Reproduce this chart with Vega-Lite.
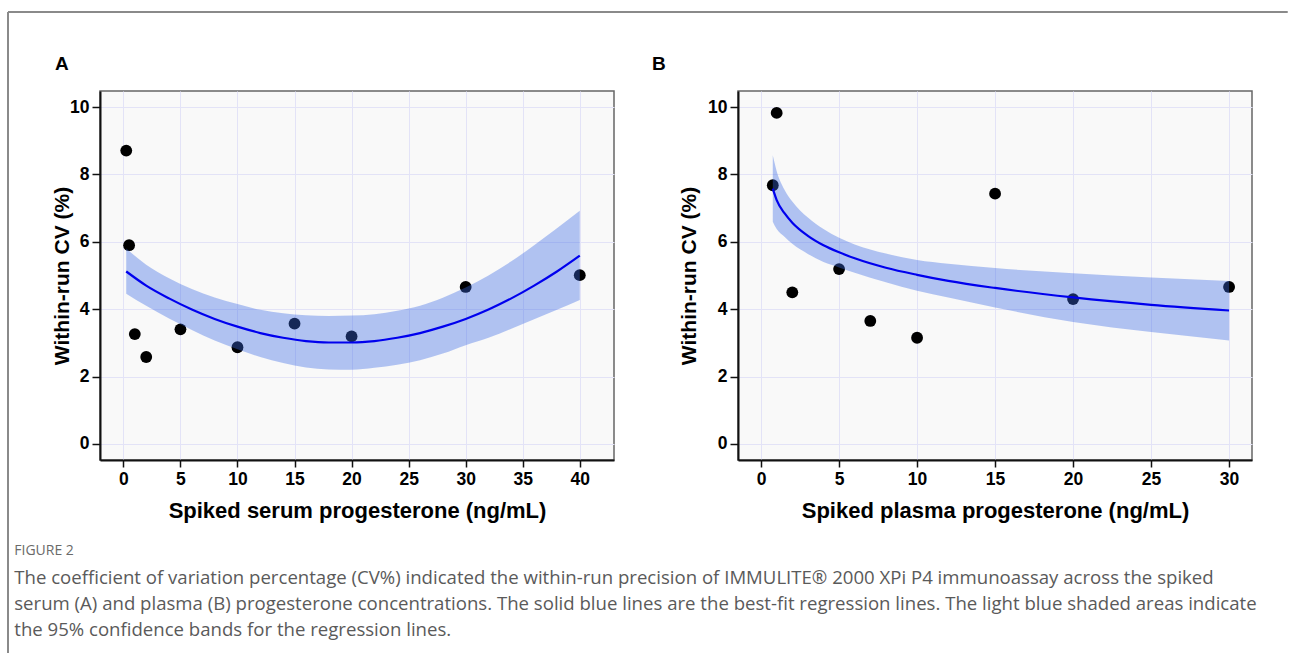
{
  "$schema": "https://vega.github.io/schema/vega-lite/v6.json",
  "background": "white",
  "padding": {"left": 6, "top": 10, "right": 0, "bottom": 0},
  "datasets": {
    "ptsA": [
      {"x": 0.25, "y": 8.71}, {"x": 0.5, "y": 5.9}, {"x": 1, "y": 3.26}, {"x": 2, "y": 2.58},
      {"x": 5, "y": 3.4}, {"x": 10, "y": 2.87}, {"x": 15, "y": 3.57}, {"x": 20, "y": 3.19},
      {"x": 30, "y": 4.66}, {"x": 40, "y": 5.01}
    ],
    "fitA": [
      {"x": 0.25, "fit": 5.12, "lo": 4.46, "hi": 5.8},
      {"x": 2, "fit": 4.7, "lo": 4.1, "hi": 5.32},
      {"x": 4, "fit": 4.32, "lo": 3.72, "hi": 4.92},
      {"x": 6, "fit": 3.99, "lo": 3.38, "hi": 4.6},
      {"x": 8, "fit": 3.71, "lo": 3.07, "hi": 4.35},
      {"x": 10, "fit": 3.48, "lo": 2.81, "hi": 4.15},
      {"x": 12, "fit": 3.29, "lo": 2.58, "hi": 3.98},
      {"x": 14, "fit": 3.15, "lo": 2.4, "hi": 3.88},
      {"x": 16, "fit": 3.05, "lo": 2.27, "hi": 3.82},
      {"x": 18, "fit": 3.01, "lo": 2.21, "hi": 3.8},
      {"x": 20, "fit": 3.01, "lo": 2.2, "hi": 3.81},
      {"x": 22, "fit": 3.05, "lo": 2.26, "hi": 3.85},
      {"x": 24, "fit": 3.15, "lo": 2.35, "hi": 3.95},
      {"x": 26, "fit": 3.29, "lo": 2.48, "hi": 4.1},
      {"x": 28, "fit": 3.48, "lo": 2.68, "hi": 4.34},
      {"x": 30, "fit": 3.71, "lo": 2.93, "hi": 4.64},
      {"x": 32, "fit": 3.99, "lo": 3.15, "hi": 5.0},
      {"x": 34, "fit": 4.32, "lo": 3.42, "hi": 5.42},
      {"x": 36, "fit": 4.7, "lo": 3.7, "hi": 5.9},
      {"x": 38, "fit": 5.12, "lo": 3.98, "hi": 6.4},
      {"x": 40, "fit": 5.59, "lo": 4.27, "hi": 6.92}
    ],
    "ptsB": [
      {"x": 0.75, "y": 7.68}, {"x": 1, "y": 9.83}, {"x": 2, "y": 4.5}, {"x": 5, "y": 5.19},
      {"x": 7, "y": 3.65}, {"x": 10, "y": 3.15}, {"x": 15, "y": 7.43}, {"x": 20, "y": 4.3},
      {"x": 30, "y": 4.66}
    ],
    "fitB": [
      {"x": 0.75, "fit": 7.58, "lo": 6.6, "hi": 8.57},
      {"x": 1, "fit": 7.24, "lo": 6.38, "hi": 8.1},
      {"x": 1.5, "fit": 6.85, "lo": 6.15, "hi": 7.55},
      {"x": 2, "fit": 6.57, "lo": 5.94, "hi": 7.2},
      {"x": 3, "fit": 6.18, "lo": 5.64, "hi": 6.72},
      {"x": 4, "fit": 5.9, "lo": 5.4, "hi": 6.38},
      {"x": 5, "fit": 5.69, "lo": 5.24, "hi": 6.12},
      {"x": 6, "fit": 5.51, "lo": 5.08, "hi": 5.92},
      {"x": 8, "fit": 5.23, "lo": 4.8, "hi": 5.65},
      {"x": 10, "fit": 5.02, "lo": 4.55, "hi": 5.46},
      {"x": 12, "fit": 4.84, "lo": 4.35, "hi": 5.35},
      {"x": 15, "fit": 4.63, "lo": 4.05, "hi": 5.22},
      {"x": 20, "fit": 4.35, "lo": 3.62, "hi": 5.07},
      {"x": 25, "fit": 4.13, "lo": 3.32, "hi": 4.94},
      {"x": 30, "fit": 3.96, "lo": 3.07, "hi": 4.84}
    ],
    "labelA": [{"label": "A"}],
    "labelB": [{"label": "B"}]
  },
  "spacing": 124,
  "bounds": "flush",
  "title": {
    "text": "FIGURE 2",
    "subtitle": [
      "The coefficient of variation percentage (CV%) indicated the within-run precision of IMMULITE® 2000 XPi P4 immunoassay across the spiked",
      "serum (A) and plasma (B) progesterone concentrations. The solid blue lines are the best-fit regression lines. The light blue shaded areas indicate",
      "the 95% confidence bands for the regression lines."
    ],
    "orient": "bottom",
    "anchor": "start",
    "frame": "bounds",
    "offset": -111,
    "dx": 8,
    "baseline": "top",
    "font": "Open Sans",
    "fontSize": 14,
    "fontWeight": "normal",
    "color": "#6a6a6a",
    "subtitleFont": "Open Sans",
    "subtitleFontSize": 18.6,
    "subtitleColor": "#5a5a5a",
    "subtitleLineHeight": 26,
    "subtitlePadding": 11
  },
  "hconcat": [
    {
      "width": 514,
      "height": 369,
      "layer": [
        {
          "data": {"values": [{}]},
          "mark": {"type": "rule", "color": "#8a8a8a", "strokeWidth": 2},
          "encoding": {
            "x": {"datum": -10.113, "type": "quantitative", "scale": {"domain": [-2.05, 43.0], "nice": false, "zero": false}, "axis": {"values": [0, 5, 10, 15, 20, 25, 30, 35, 40], "title": "Spiked serum progesterone (ng/mL)"}},
            "y": {"datum": 12.8265, "type": "quantitative", "scale": {"domain": [-0.48, 10.48], "nice": false, "zero": false}, "axis": {"values": [0, 2, 4, 6, 8, 10], "title": "Within-run CV (%)", "titlePadding": -3}},
            "y2": {"datum": -6.212}
          }
        },
        {
          "data": {"values": [{}]},
          "mark": {"type": "rule", "color": "#8a8a8a", "strokeWidth": 2},
          "encoding": {
            "x": {"datum": -10.113, "type": "quantitative", "scale": {"domain": [-2.05, 43.0], "nice": false, "zero": false}, "axis": {"values": [0, 5, 10, 15, 20, 25, 30, 35, 40], "title": "Spiked serum progesterone (ng/mL)"}},
            "x2": {"datum": 102.05},
            "y": {"datum": 12.8265, "type": "quantitative", "scale": {"domain": [-0.48, 10.48], "nice": false, "zero": false}, "axis": {"values": [0, 2, 4, 6, 8, 10], "title": "Within-run CV (%)", "titlePadding": -3}}
          }
        },
        {
          "data": {"name": "labelA"},
          "mark": {"type": "text", "align": "left", "baseline": "alphabetic", "fontSize": 19, "fontWeight": "bold", "font": "Liberation Sans", "color": "#000000"},
          "encoding": {
            "x": {"datum": -5.994, "type": "quantitative", "scale": {"domain": [-2.05, 43.0], "nice": false, "zero": false}, "axis": {"values": [0, 5, 10, 15, 20, 25, 30, 35, 40], "title": "Spiked serum progesterone (ng/mL)"}},
            "y": {"datum": 11.104, "type": "quantitative", "scale": {"domain": [-0.48, 10.48], "nice": false, "zero": false}, "axis": {"values": [0, 2, 4, 6, 8, 10], "title": "Within-run CV (%)", "titlePadding": -3}},
            "text": {"field": "label"}
          }
        },
        {
          "data": {"name": "ptsA"},
          "mark": {"type": "circle", "color": "#000000", "opacity": 1, "size": 140},
          "encoding": {
            "x": {"field": "x", "type": "quantitative", "scale": {"domain": [-2.05, 43.0], "nice": false, "zero": false}, "axis": {"values": [0, 5, 10, 15, 20, 25, 30, 35, 40], "title": "Spiked serum progesterone (ng/mL)"}},
            "y": {"field": "y", "type": "quantitative", "scale": {"domain": [-0.48, 10.48], "nice": false, "zero": false}, "axis": {"values": [0, 2, 4, 6, 8, 10], "title": "Within-run CV (%)", "titlePadding": -3}}
          }
        },
        {
          "data": {"name": "fitA"},
          "mark": {"type": "area", "color": "#3a69e5", "opacity": 0.38, "interpolate": "monotone"},
          "encoding": {
            "x": {"field": "x", "type": "quantitative", "scale": {"domain": [-2.05, 43.0], "nice": false, "zero": false}, "axis": {"values": [0, 5, 10, 15, 20, 25, 30, 35, 40], "title": "Spiked serum progesterone (ng/mL)"}},
            "y": {"field": "lo", "type": "quantitative", "scale": {"domain": [-0.48, 10.48], "nice": false, "zero": false}, "axis": {"values": [0, 2, 4, 6, 8, 10], "title": "Within-run CV (%)", "titlePadding": -3}},
            "y2": {"field": "hi"}
          }
        },
        {
          "data": {"name": "fitA"},
          "mark": {"type": "line", "color": "#0000ee", "strokeWidth": 2.2, "interpolate": "monotone"},
          "encoding": {
            "x": {"field": "x", "type": "quantitative", "scale": {"domain": [-2.05, 43.0], "nice": false, "zero": false}, "axis": {"values": [0, 5, 10, 15, 20, 25, 30, 35, 40], "title": "Spiked serum progesterone (ng/mL)"}},
            "y": {"field": "fit", "type": "quantitative", "scale": {"domain": [-0.48, 10.48], "nice": false, "zero": false}, "axis": {"values": [0, 2, 4, 6, 8, 10], "title": "Within-run CV (%)", "titlePadding": -3}}
          }
        }
      ]
    },
    {
      "width": 514,
      "height": 369,
      "layer": [
        {
          "data": {"name": "labelB"},
          "mark": {"type": "text", "align": "left", "baseline": "alphabetic", "fontSize": 19, "fontWeight": "bold", "font": "Liberation Sans", "color": "#000000"},
          "encoding": {
            "x": {"datum": -6.993, "type": "quantitative", "scale": {"domain": [-1.48, 31.47], "nice": false, "zero": false}, "axis": {"values": [0, 5, 10, 15, 20, 25, 30], "title": "Spiked plasma progesterone (ng/mL)"}},
            "y": {"datum": 11.104, "type": "quantitative", "scale": {"domain": [-0.48, 10.48], "nice": false, "zero": false}, "axis": {"values": [0, 2, 4, 6, 8, 10], "title": "Within-run CV (%)", "titlePadding": 8}},
            "text": {"field": "label"}
          }
        },
        {
          "data": {"name": "ptsB"},
          "mark": {"type": "circle", "color": "#000000", "opacity": 1, "size": 140},
          "encoding": {
            "x": {"field": "x", "type": "quantitative", "scale": {"domain": [-1.48, 31.47], "nice": false, "zero": false}, "axis": {"values": [0, 5, 10, 15, 20, 25, 30], "title": "Spiked plasma progesterone (ng/mL)"}},
            "y": {"field": "y", "type": "quantitative", "scale": {"domain": [-0.48, 10.48], "nice": false, "zero": false}, "axis": {"values": [0, 2, 4, 6, 8, 10], "title": "Within-run CV (%)", "titlePadding": 8}}
          }
        },
        {
          "data": {"name": "fitB"},
          "mark": {"type": "area", "color": "#3a69e5", "opacity": 0.38, "interpolate": "monotone"},
          "encoding": {
            "x": {"field": "x", "type": "quantitative", "scale": {"domain": [-1.48, 31.47], "nice": false, "zero": false}, "axis": {"values": [0, 5, 10, 15, 20, 25, 30], "title": "Spiked plasma progesterone (ng/mL)"}},
            "y": {"field": "lo", "type": "quantitative", "scale": {"domain": [-0.48, 10.48], "nice": false, "zero": false}, "axis": {"values": [0, 2, 4, 6, 8, 10], "title": "Within-run CV (%)", "titlePadding": 8}},
            "y2": {"field": "hi"}
          }
        },
        {
          "data": {"name": "fitB"},
          "mark": {"type": "line", "color": "#0000ee", "strokeWidth": 2.2, "interpolate": "monotone"},
          "encoding": {
            "x": {"field": "x", "type": "quantitative", "scale": {"domain": [-1.48, 31.47], "nice": false, "zero": false}, "axis": {"values": [0, 5, 10, 15, 20, 25, 30], "title": "Spiked plasma progesterone (ng/mL)"}},
            "y": {"field": "fit", "type": "quantitative", "scale": {"domain": [-0.48, 10.48], "nice": false, "zero": false}, "axis": {"values": [0, 2, 4, 6, 8, 10], "title": "Within-run CV (%)", "titlePadding": 8}}
          }
        }
      ]
    }
  ],
  "config": {
    "font": "Liberation Sans",
    "view": {"fill": "#f9f9f9", "stroke": "#666666", "strokeWidth": 1.5},
    "axis": {
      "labelFont": "Liberation Sans",
      "labelFontSize": 17.5,
      "labelFontWeight": "bold",
      "labelColor": "#000000",
      "titleFont": "Liberation Sans",
      "titleFontWeight": "bold",
      "titleColor": "#000000",
      "tickColor": "#111111",
      "tickWidth": 1.5,
      "domainColor": "#111111",
      "domainWidth": 2,
      "grid": true,
      "gridColor": "#e3e3f7",
      "gridWidth": 1,
      "labelFlush": false,
      "labelOverlap": false
    },
    "axisX": {"tickSize": 7, "labelPadding": 3, "titlePadding": 13, "titleFontSize": 22},
    "axisY": {"tickSize": 8, "labelPadding": 3, "titleFontSize": 21}
  }
}
